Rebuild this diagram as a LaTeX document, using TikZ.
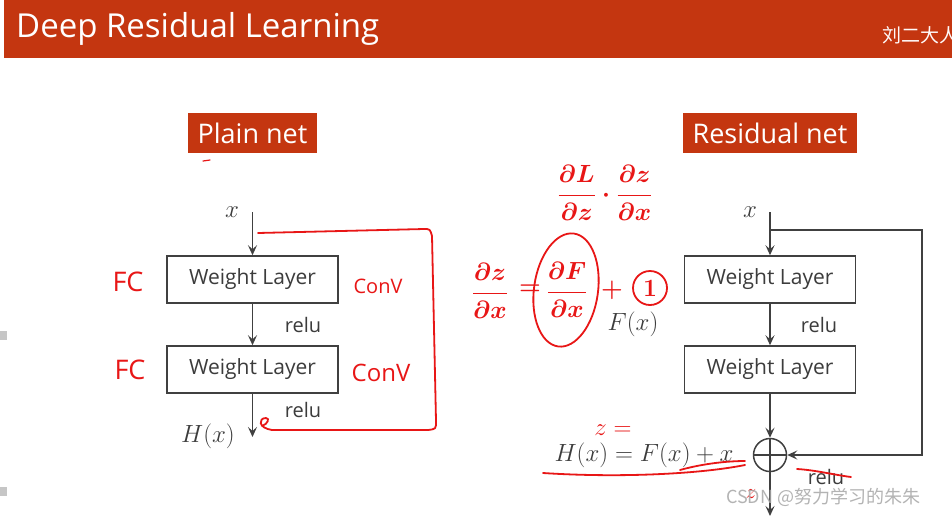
\documentclass[tikz,border=0pt]{standalone}
\usepackage{amsmath}
\usepackage{fontspec}
\setmainfont{Open Sans}
\newfontfamily\cjk{Noto Sans CJK SC}
\usetikzlibrary{arrows.meta}
\definecolor{titlered}{RGB}{196,54,16}
\definecolor{pen}{RGB}{232,22,22}
\definecolor{boxgray}{RGB}{64,64,64}
\definecolor{textgray}{RGB}{60,60,60}
\tikzset{
  layer/.style={draw=boxgray, line width=1.5pt, minimum width=171pt, minimum height=47pt,
    inner sep=0pt, text=textgray, font=\fontsize{21}{21}\selectfont},
  headbox/.style={fill=titlered, text=white, font=\fontsize{27}{27}\selectfont,
    inner sep=0pt, minimum height=40pt},
  arr/.style={draw=boxgray, line width=1.5pt, -{Stealth[length=10pt,width=9pt,inset=4pt]}},
  plainline/.style={draw=boxgray, line width=1.5pt},
  mathlbl/.style={text=textgray, font=\fontsize{29}{29}\selectfont, inner sep=0pt},
  relulbl/.style={text=textgray, font=\fontsize{20}{20}\selectfont, inner sep=0pt},
  redpen/.style={draw=pen, line width=1.8pt, line cap=round, line join=round},
  redtext/.style={text=pen, inner sep=0pt},
  redmath/.style={text=pen, inner sep=0pt, font=\fontsize{32}{32}\selectfont\boldmath},
}
\begin{document}
\begin{tikzpicture}[x=1pt,y=-1pt]
\useasboundingbox (0,0) rectangle (952,517);
\fill[white] (0,0) rectangle (952,517);
% left edge artifacts
\fill[gray!45] (0,331) rectangle (7,340);
\fill[gray!45] (0,487) rectangle (7,496);
% title bar
\fill[titlered] (4,0) rectangle (952,58);
\node[anchor=base west, text=white, inner sep=0pt, font=\fontsize{33}{33}\selectfont] (title) at (16,37) {Deep Residual Learning};
\node[anchor=base west, text=white!90!pink, inner sep=0pt, font=\cjk\fontsize{19}{19}\selectfont] (author) at (882,42) {刘二大人};

% ---------- Plain net ----------
\node[headbox, minimum width=129pt] (plainhead) at (252.5,133) {Plain net};
\node[layer] (p1) at (252.5,279.5) {Weight Layer};
\node[layer] (p2) at (252.5,369.5) {Weight Layer};
\node[mathlbl] (px) at (232,212) {$x$};
\coordinate (pin) at (252.5,212);
\coordinate (pout) at (252.5,437);
\node[mathlbl] (pH) at (208,436) {$H(x)$};
\draw[arr] (pin) -- (p1.north);
\draw[arr] (p1.south) -- (p2.north);
\draw[arr] (p2.south) -- (pout);
\node[relulbl] (prelu1) at (303,325) {relu};
\node[relulbl] (prelu2) at (303,410) {relu};

% ---------- Residual net ----------
\node[headbox, minimum width=174pt] (reshead) at (770,133) {Residual net};
\node[layer] (r1) at (770,279.5) {Weight Layer};
\node[layer] (r2) at (770,369.5) {Weight Layer};
\node[mathlbl] (rx) at (750,212) {$x$};
\coordinate (rin) at (770,212);
\coordinate (rsplit) at (770,230);
\coordinate (rcorner) at (922,230);
\coordinate (rout) at (770,516);
\node[draw=boxgray, line width=1.5pt, circle, minimum size=33pt, inner sep=0pt] (sum) at (770,455) {};
\draw[plainline] (sum.north) -- (sum.south) (sum.west) -- (sum.east);
\draw[arr] (rin) -- (r1.north);
\draw[arr] (r1.south) -- (r2.north);
\draw[arr] (r2.south) -- (sum.north);
\draw[arr] (rsplit) -- (rcorner) |- (sum.east);
\draw[arr] (sum.south) -- (rout);
\node[relulbl] (rrelu1) at (819,325) {relu};
\node[relulbl] (rrelu2) at (826,477) {relu};
\node[mathlbl] (rF) at (633,324) {$F(x)$};
\node[mathlbl] (rH) at (644,455) {$H(x) = F(x) + x$};

% ---------- red annotations ----------
\draw[redpen, line width=1.2pt] (203,161) -- (210,160);
\node[redtext, font=\fontsize{27}{27}\selectfont] (fc1) at (128,282) {FC};
\node[redtext, font=\fontsize{27}{27}\selectfont] (fc2) at (130,370) {FC};
\node[redtext, font=\fontsize{20}{20}\selectfont] (conv1) at (378,286) {ConV};
\node[redtext, font=\fontsize{24}{24}\selectfont] (conv2) at (381,373) {ConV};
% loop on plain net
\coordinate (lp0) at (258,233);
\coordinate (lp1) at (424,229);
\coordinate (lp2) at (432,236);
\coordinate (lp3) at (436,421);
\coordinate (lp4) at (428,430);
\coordinate (lp5) at (272,430);
\draw[redpen] (lp0) -- (lp1) .. controls (430,229) .. (lp2) -- (lp3) .. controls (436,429) .. (lp4)
  -- (lp5) .. controls (258,428) and (258,418) .. (266,418) .. controls (270,418) and (268,424) .. (262,426);
% chain rule
\node[redmath] (chain) at (605,193) {$\dfrac{\partial L}{\partial z}\cdot\dfrac{\partial z}{\partial x}$};
\node[redmath, font=\fontsize{34}{34}\selectfont\boldmath] (dzdx) at (490,291) {$\dfrac{\partial z}{\partial x}$};
\node[redmath] (eqs) at (530,290) {$=$};
\node[redmath, font=\fontsize{34}{34}\selectfont\boldmath] (dFdx) at (567,290) {$\dfrac{\partial F}{\partial x}$};
\node[redmath] (plus) at (612,290) {$+$};
\node[redmath, font=\fontsize{26}{26}\selectfont\boldmath, draw=pen, line width=1.8pt, circle, minimum size=34pt] (one) at (650,288) {$1$};
\draw[redpen] (566,290) ellipse [x radius=32, y radius=57, rotate=-8];
% z = over H(x)
\node[redtext, font=\fontsize{24}{24}\selectfont] (zeq) at (613,430) {$z=$};
\coordinate (ul0) at (543,473);
\coordinate (ul1) at (745,465);
\draw[redpen] (ul0) .. controls (620,478) and (700,474) .. (ul1);
\draw[redpen] (680,470) .. controls (705,463) and (730,461) .. (745,461);
% strike relu
\coordinate (st0) at (797,469);
\coordinate (st1) at (851,477);
\draw[redpen] (st0) .. controls (815,470) and (835,475) .. (st1);
\node[redtext, font=\fontsize{22}{22}\selectfont] (zout) at (751,494) {$z$};

% watermark
\node[anchor=west, text=gray!70, opacity=0.85, inner sep=0pt, font=\cjk\fontsize{18}{18}\selectfont] (wm) at (726,497) {CSDN @努力学习的朱朱};
\end{tikzpicture}
\end{document}
